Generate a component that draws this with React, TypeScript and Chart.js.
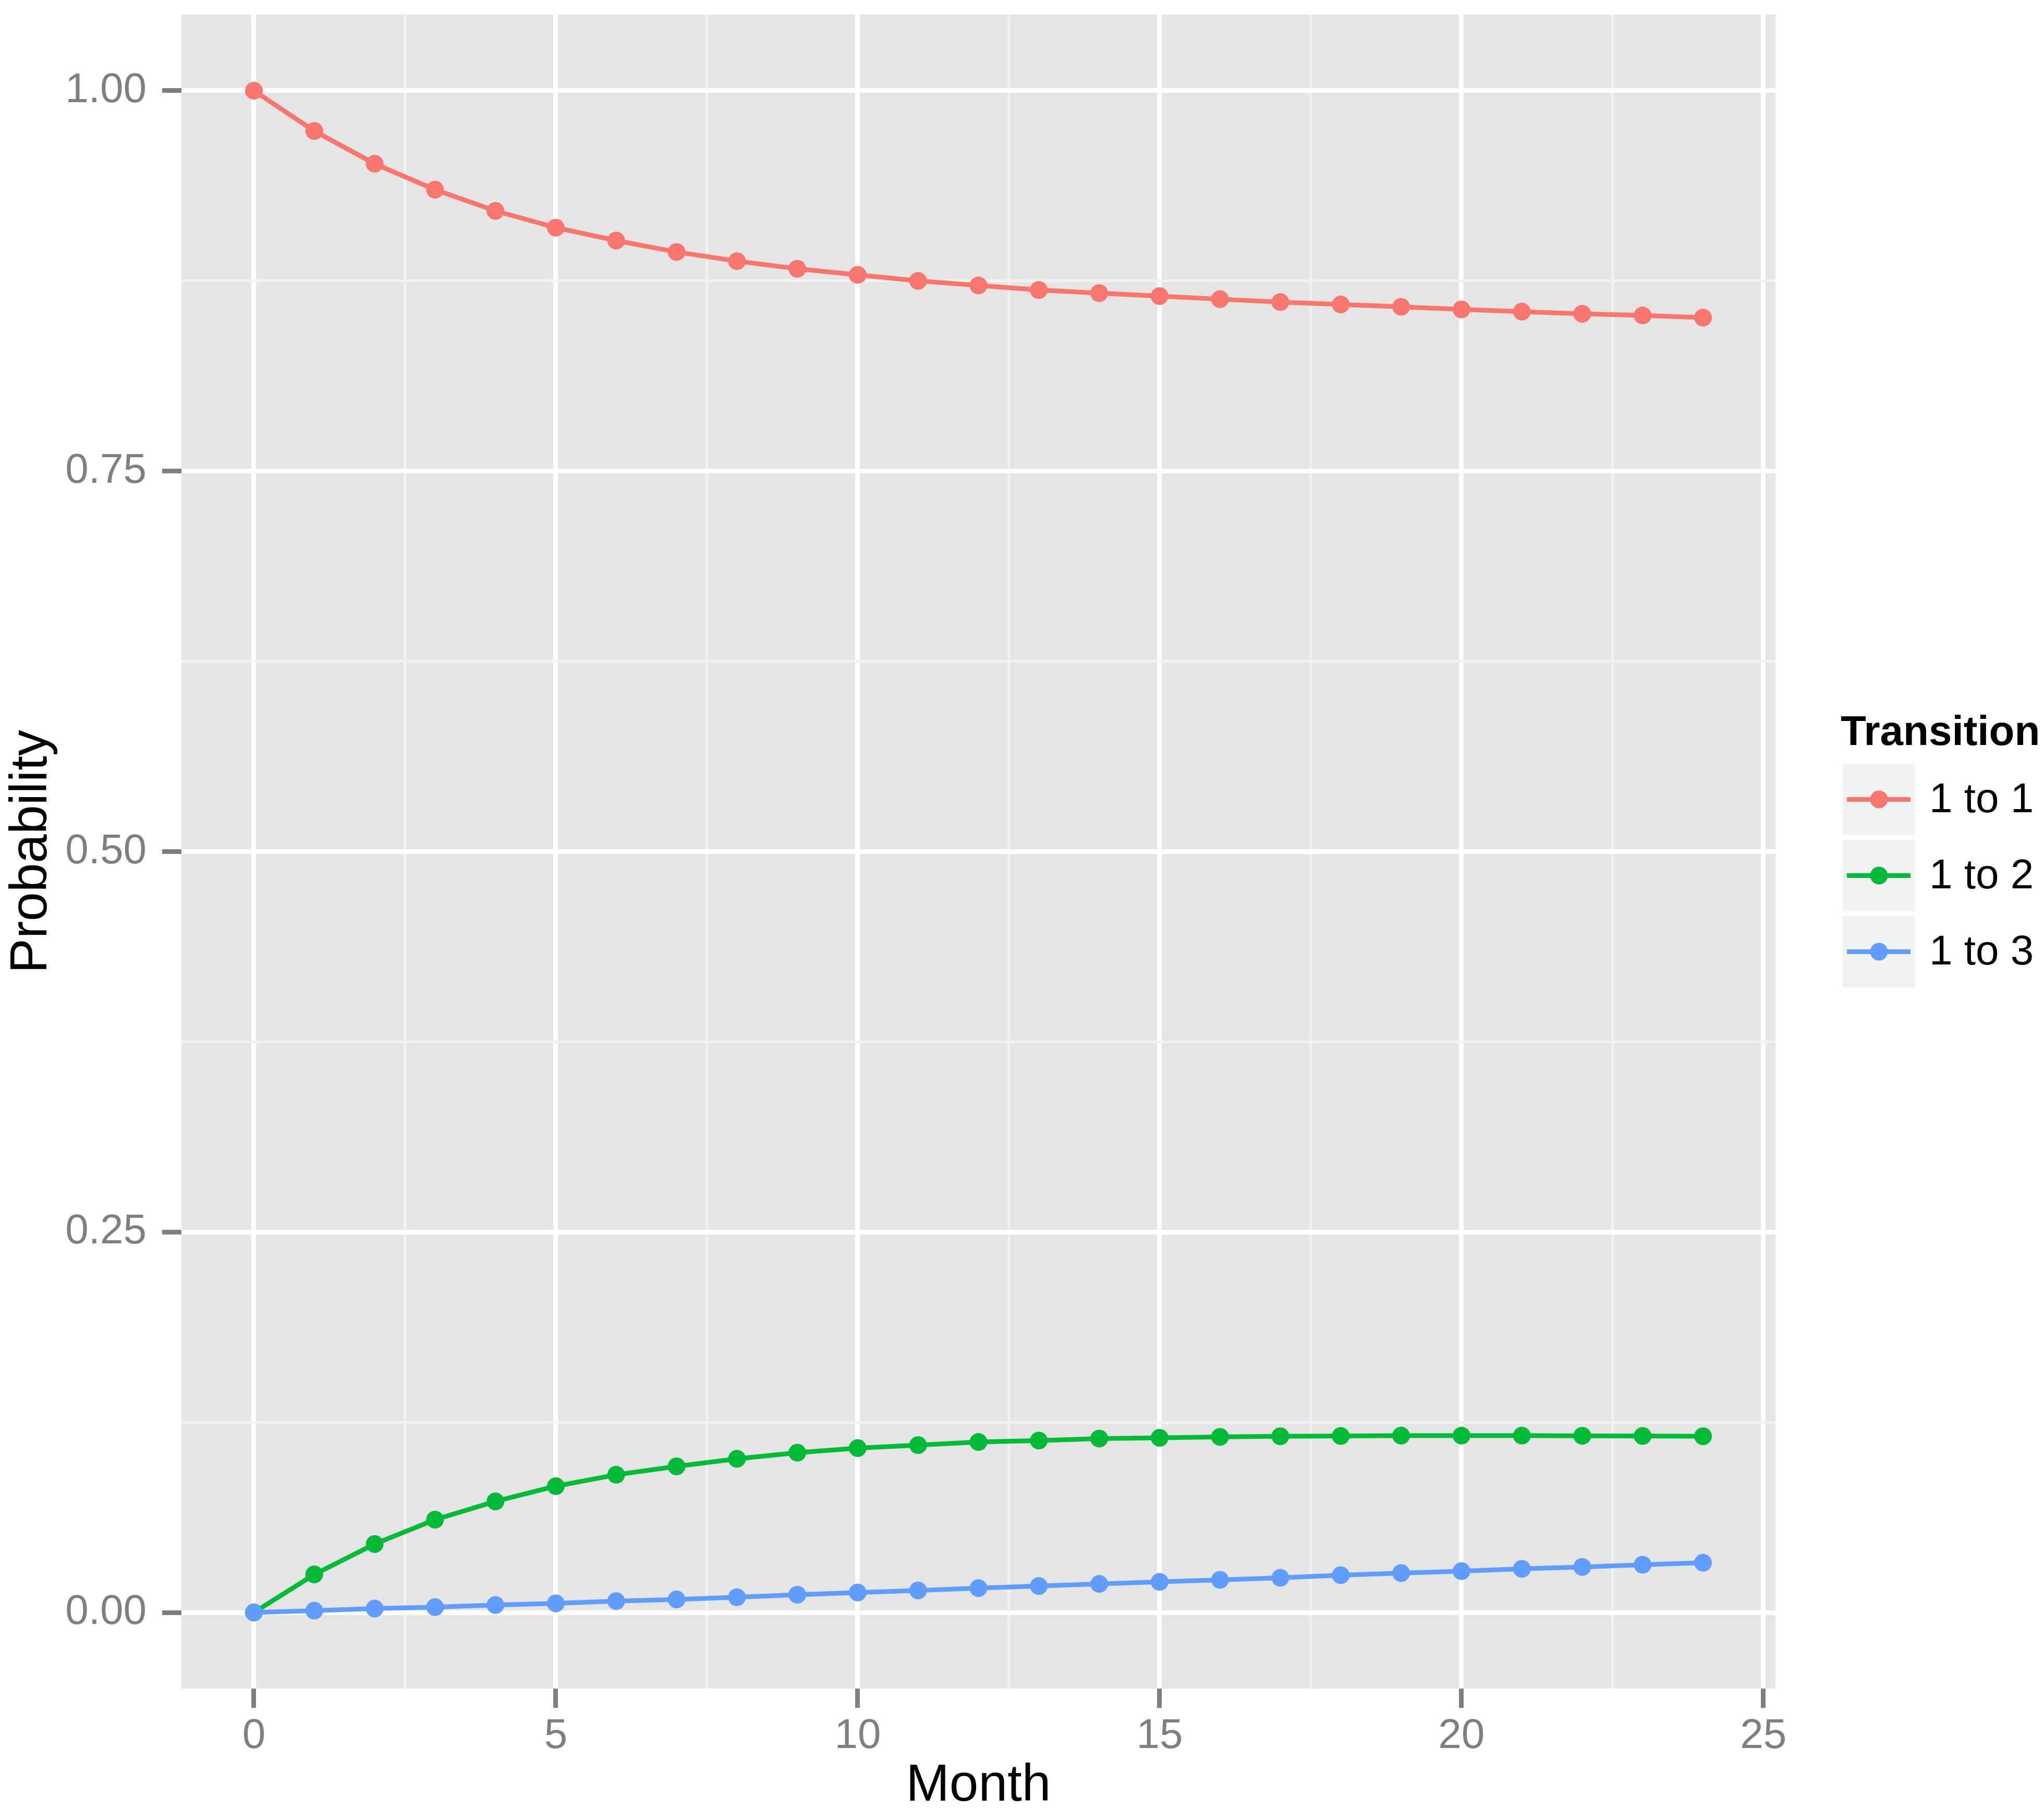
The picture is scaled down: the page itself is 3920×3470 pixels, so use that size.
import React, { useEffect, useRef } from 'react';
import { Chart, registerables } from 'chart.js';

Chart.register(...registerables);

const months = [0, 1, 2, 3, 4, 5, 6, 7, 8, 9, 10, 11, 12, 13, 14, 15, 16, 17, 18, 19, 20, 21, 22, 23, 24];
const seriesNames = ['1 to 1', '1 to 2', '1 to 3'];
const p11 = [1.0, 0.9735, 0.952, 0.935, 0.921, 0.910, 0.9015, 0.894, 0.888, 0.883, 0.879, 0.875, 0.872, 0.869, 0.867, 0.865, 0.863, 0.8611, 0.8595, 0.858, 0.8563, 0.8548, 0.8534, 0.8523, 0.8509];
const p12 = [0.0, 0.025, 0.045, 0.061, 0.073, 0.083, 0.0905, 0.096, 0.101, 0.105, 0.108, 0.110, 0.112, 0.113, 0.1143, 0.1148, 0.1154, 0.1158, 0.116, 0.1162, 0.1162, 0.1162, 0.1161, 0.116, 0.1158];
const p13 = [0.0, 0.0012, 0.0026, 0.0035, 0.0049, 0.006, 0.0075, 0.0086, 0.010, 0.0117, 0.0131, 0.0145, 0.016, 0.0174, 0.0188, 0.0201, 0.0214, 0.0228, 0.0245, 0.0259, 0.0272, 0.0287, 0.0299, 0.0314, 0.0327];
const seriesColors = ['#F8766D', '#00BA38', '#619CFF'];
const xMajorTicks = [0, 5, 10, 15, 20, 25];
const xMinorTicks = [2.5, 7.5, 12.5, 17.5, 22.5];
const yMajorTicks = [0, 0.25, 0.5, 0.75, 1];
const yMinorTicks = [0.125, 0.375, 0.625, 0.875];
const xTitle = 'Month';
const yTitle = 'Probability';
const legendTitle = 'Transition';

const FONT = '"Liberation Sans", Arial, Helvetica, sans-serif';

const panelBackground = {
  id: 'panelBackground',
  beforeDraw(chart: any) {
    const { ctx, chartArea } = chart;
    ctx.save();
    ctx.fillStyle = '#E5E5E5';
    ctx.fillRect(chartArea.left, chartArea.top, chartArea.right - chartArea.left, chartArea.bottom - chartArea.top);
    ctx.restore();
  },
};

const ggLegend = {
  id: 'ggLegend',
  afterDraw(chart: any) {
    const ctx = chart.ctx;
    ctx.save();
    ctx.fillStyle = '#000000';
    ctx.font = `bold 80px ${FONT}`;
    ctx.textBaseline = 'alphabetic';
    ctx.textAlign = 'left';
    ctx.fillText(legendTitle, 3530, 1429);
    chart.data.datasets.forEach((ds: any, i: number) => {
      const y0 = 1465 + i * 146;
      ctx.fillStyle = '#F2F2F2';
      ctx.fillRect(3534, y0, 139, 137);
      const cy = y0 + 68.5;
      ctx.strokeStyle = ds.borderColor;
      ctx.lineWidth = 9;
      ctx.beginPath();
      ctx.moveTo(3542, cy);
      ctx.lineTo(3664, cy);
      ctx.stroke();
      ctx.beginPath();
      ctx.arc(3603.5, cy, 17, 0, Math.PI * 2);
      ctx.fillStyle = ds.borderColor;
      ctx.fill();
      ctx.fillStyle = '#000000';
      ctx.font = `80px ${FONT}`;
      ctx.textBaseline = 'middle';
      ctx.fillText(ds.label, 3700, cy + 2);
    });
    ctx.restore();
  },
};

const isIn = (arr: number[], v: number) => arr.some((a) => Math.abs(a - v) < 1e-9);

export default function App() {
  const canvasRef = useRef<HTMLCanvasElement | null>(null);

  useEffect(() => {
    if (!canvasRef.current) return;
    const series = [p11, p12, p13];
    const chart = new Chart(canvasRef.current, {
      type: 'line',
      data: {
        datasets: series.map((vals, i) => ({
          label: seriesNames[i],
          data: months.map((m, j) => ({ x: m, y: vals[j] })),
          borderColor: seriesColors[i],
          backgroundColor: seriesColors[i],
          pointBackgroundColor: seriesColors[i],
          pointBorderWidth: 0,
          pointRadius: 17,
          borderWidth: 9,
          tension: 0,
          fill: false,
          order: 3 - i,
        })),
      },
      options: {
        responsive: false,
        animation: false,
        devicePixelRatio: 1,
        layout: { padding: { left: 0, right: 515, top: 28, bottom: 0 } },
        plugins: {
          legend: { display: false },
          tooltip: { enabled: false },
        },
        scales: {
          x: {
            type: 'linear',
            min: -1.2,
            max: 25.2,
            afterBuildTicks: (scale: any) => {
              scale.ticks = [...xMajorTicks, ...xMinorTicks].sort((a, b) => a - b).map((v) => ({ value: v }));
            },
            afterFit: (scale: any) => {
              scale.height = 231;
              scale.paddingLeft = 0;
              scale.paddingRight = 0;
              scale.paddingTop = 0;
              scale.paddingBottom = 0;
            },
            border: { display: false },
            grid: {
              color: (c: any) => (c.tick && isIn(xMajorTicks, c.tick.value) ? '#FFFFFF' : '#F2F2F2'),
              lineWidth: (c: any) => (c.tick && isIn(xMajorTicks, c.tick.value) ? 9 : 5),
              tickColor: (c: any) => (c.tick && isIn(xMajorTicks, c.tick.value) ? '#7F7F7F' : 'rgba(0,0,0,0)'),
              tickLength: 37,
              tickWidth: 9,
              drawTicks: true,
            },
            ticks: {
              autoSkip: false,
              maxRotation: 0,
              minRotation: 0,
              padding: 7,
              color: '#7F7F7F',
              font: { size: 80, family: FONT },
              callback: (v: any) => (isIn(xMajorTicks, Number(v)) ? String(v) : ''),
            },
            title: {
              display: true,
              text: xTitle,
              color: '#000000',
              font: { size: 100, family: FONT, lineHeight: 0.8 },
              padding: { top: 0, bottom: 4 },
            },
          },
          y: {
            type: 'linear',
            min: -0.05,
            max: 1.05,
            afterBuildTicks: (scale: any) => {
              scale.ticks = [...yMajorTicks, ...yMinorTicks].sort((a, b) => a - b).map((v) => ({ value: v }));
            },
            afterFit: (scale: any) => {
              scale.width = 348;
              scale.paddingLeft = 0;
              scale.paddingRight = 0;
              scale.paddingTop = 0;
              scale.paddingBottom = 0;
            },
            border: { display: false },
            grid: {
              color: (c: any) => (c.tick && isIn(yMajorTicks, c.tick.value) ? '#FFFFFF' : '#F2F2F2'),
              lineWidth: (c: any) => (c.tick && isIn(yMajorTicks, c.tick.value) ? 9 : 5),
              tickColor: (c: any) => (c.tick && isIn(yMajorTicks, c.tick.value) ? '#7F7F7F' : 'rgba(0,0,0,0)'),
              tickLength: 37,
              tickWidth: 9,
              drawTicks: true,
            },
            ticks: {
              autoSkip: false,
              padding: 30,
              color: '#7F7F7F',
              font: { size: 80, family: FONT },
              callback: (v: any) => (isIn(yMajorTicks, Number(v)) ? Number(v).toFixed(2) : ''),
            },
            title: {
              display: true,
              text: yTitle,
              color: '#000000',
              font: { size: 100, family: FONT },
              padding: { top: 1, bottom: 0 },
            },
          },
        },
      } as any,
      plugins: [panelBackground, ggLegend],
    });
    return () => chart.destroy();
  }, []);

  return (
    <div style={{ position: 'absolute', left: 0, top: 0, width: 3920, height: 3470, background: '#FFFFFF' }}>
      <canvas ref={canvasRef} width={3920} height={3470} style={{ display: 'block' }} />
    </div>
  );
}
